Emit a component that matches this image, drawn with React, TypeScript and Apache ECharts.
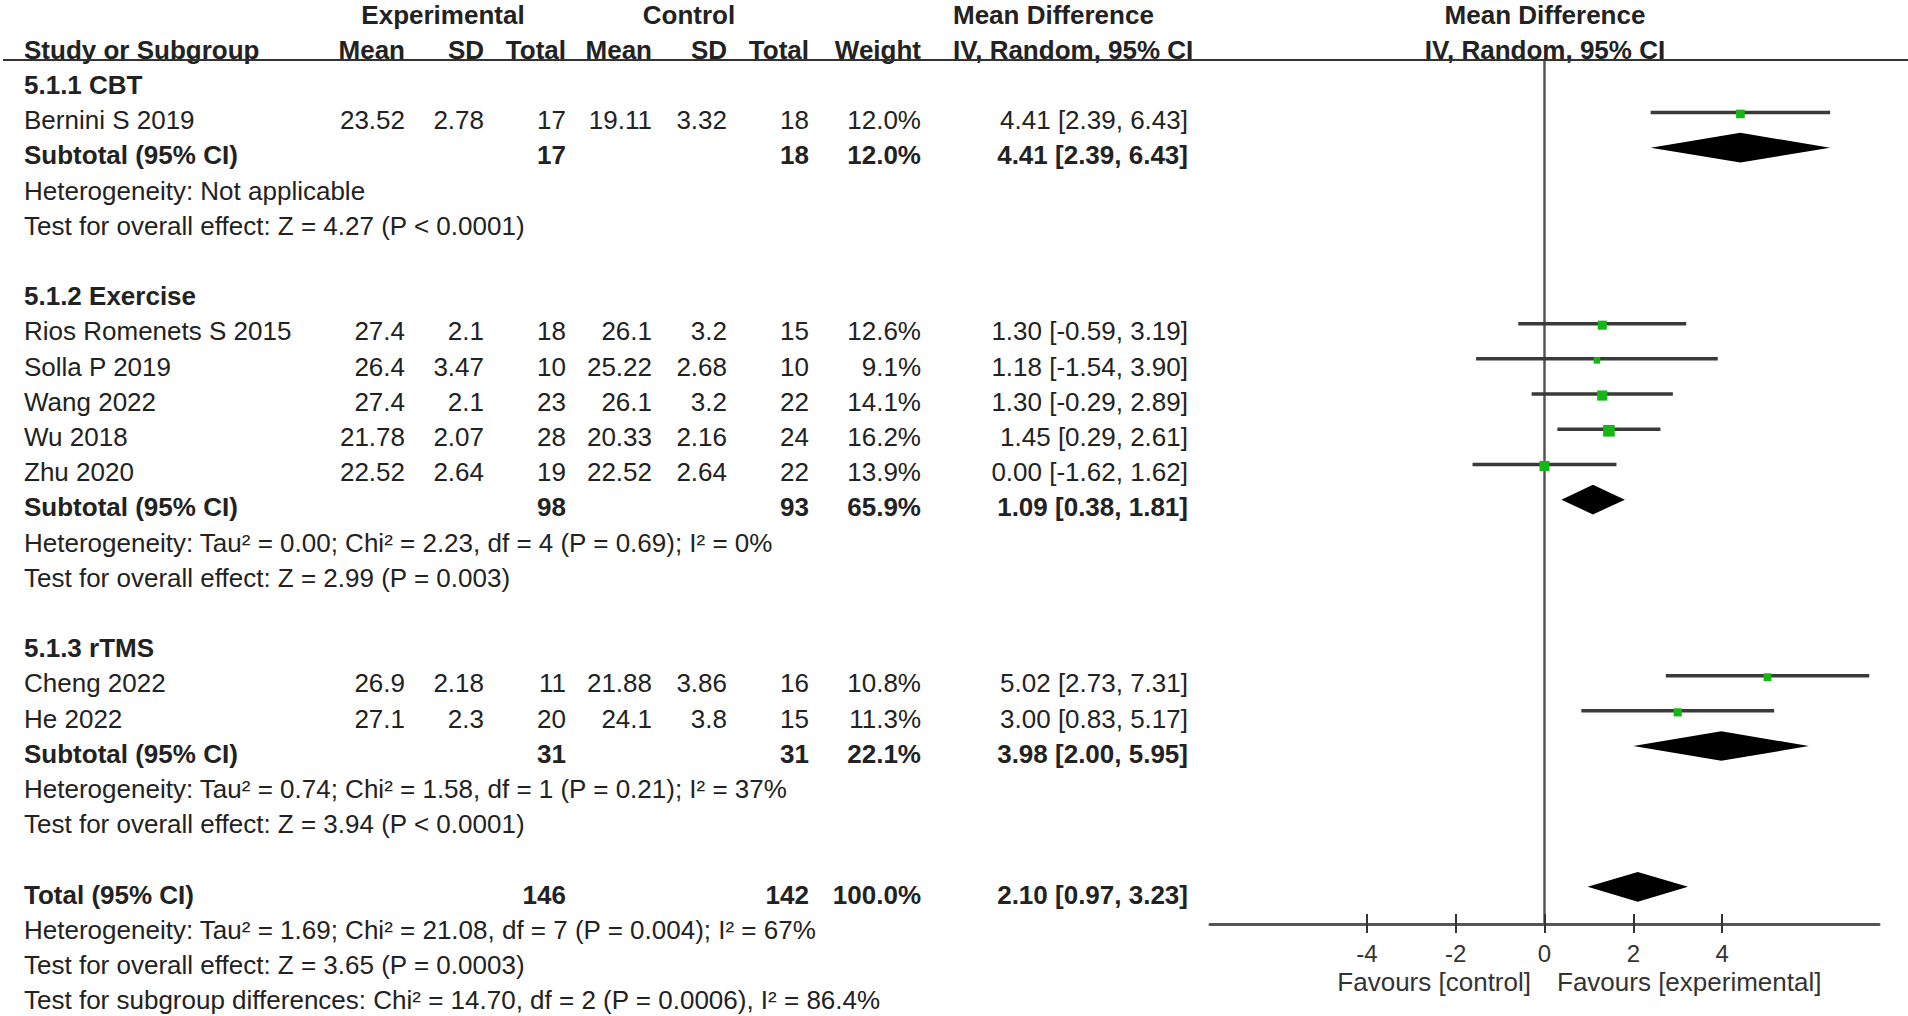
import React, { useEffect, useRef } from "react";
import * as echarts from "echarts";

// ---------------- data ----------------
const groupTitles = ["5.1.1 CBT", "5.1.2 Exercise", "5.1.3 rTMS"];
const studyGroup = [0, 1, 1, 1, 1, 1, 2, 2];
const studyNames = [
  "Bernini S 2019",
  "Rios Romenets S 2015",
  "Solla P 2019",
  "Wang 2022",
  "Wu 2018",
  "Zhu 2020",
  "Cheng 2022",
  "He 2022",
];
const expMean = [23.52, 27.4, 26.4, 27.4, 21.78, 22.52, 26.9, 27.1];
const expSD = [2.78, 2.1, 3.47, 2.1, 2.07, 2.64, 2.18, 2.3];
const expN = [17, 18, 10, 23, 28, 19, 11, 20];
const ctlMean = [19.11, 26.1, 25.22, 26.1, 20.33, 22.52, 21.88, 24.1];
const ctlSD = [3.32, 3.2, 2.68, 3.2, 2.16, 2.64, 3.86, 3.8];
const ctlN = [18, 15, 10, 22, 24, 22, 16, 15];
const weight = [12.0, 12.6, 9.1, 14.1, 16.2, 13.9, 10.8, 11.3];
const md = [4.41, 1.3, 1.18, 1.3, 1.45, 0.0, 5.02, 3.0];
const ciLow = [2.39, -0.59, -1.54, -0.29, 0.29, -1.62, 2.73, 0.83];
const ciHigh = [6.43, 3.19, 3.9, 2.89, 2.61, 1.62, 7.31, 5.17];

const subExpN = [17, 98, 31];
const subCtlN = [18, 93, 31];
const subWeight = [12.0, 65.9, 22.1];
const subMd = [4.41, 1.09, 3.98];
const subLow = [2.39, 0.38, 2.0];
const subHigh = [6.43, 1.81, 5.95];
const subHet = [
  "Heterogeneity: Not applicable",
  "Heterogeneity: Tau² = 0.00; Chi² = 2.23, df = 4 (P = 0.69); I² = 0%",
  "Heterogeneity: Tau² = 0.74; Chi² = 1.58, df = 1 (P = 0.21); I² = 37%",
];
const subEffect = [
  "Test for overall effect: Z = 4.27 (P < 0.0001)",
  "Test for overall effect: Z = 2.99 (P = 0.003)",
  "Test for overall effect: Z = 3.94 (P < 0.0001)",
];

const totalExpN = 146;
const totalCtlN = 142;
const totalWeight = 100.0;
const totalMd = 2.1;
const totalLow = 0.97;
const totalHigh = 3.23;
const totalHet = "Heterogeneity: Tau² = 1.69; Chi² = 21.08, df = 7 (P = 0.004); I² = 67%";
const totalEffect = "Test for overall effect: Z = 3.65 (P = 0.0003)";
const subgroupTest = "Test for subgroup differences: Chi² = 14.70, df = 2 (P = 0.0006), I² = 86.4%";

const tickValues = [-4, -2, 0, 2, 4];
const favoursLeft = "Favours [control]";
const favoursRight = "Favours [experimental]";

// ---------------- layout ----------------
const W = 1908;
const H = 1016;
const ROW0 = 85;
const ROWH = 35.2;
const FONT = "'Liberation Sans', Arial, Helvetica, sans-serif";
const TEXT = "#222";
const MARK_OFF = 0.22;

const COL = {
  name: 24,
  expMean: 405,
  expSD: 484,
  expN: 566,
  ctlMean: 652,
  ctlSD: 727,
  ctlN: 809,
  weight: 921,
  ci: 1188,
  mdHead: 953,
  expHead: 443,
  ctlHead: 689,
  plotHead: 1545,
};

type Cell = { x: number; r: number; text: string; align: string; bold: boolean };

const fmtCI = (m: number, l: number, h: number) =>
  `${m.toFixed(2)} [${l.toFixed(2)}, ${h.toFixed(2)}]`;

function buildLayout() {
  const cells: Cell[] = [];
  const studies: number[][] = [];
  const diamonds: number[][] = [];
  const add = (x: number, r: number, text: string, align: string, bold = false) =>
    cells.push({ x, r, text, align, bold });

  add(COL.expHead, -2, "Experimental", "center", true);
  add(COL.ctlHead, -2, "Control", "center", true);
  add(COL.mdHead, -2, "Mean Difference", "left", true);
  add(COL.plotHead, -2, "Mean Difference", "center", true);
  add(COL.name, -1, "Study or Subgroup", "left", true);
  add(COL.expMean, -1, "Mean", "right", true);
  add(COL.expSD, -1, "SD", "right", true);
  add(COL.expN, -1, "Total", "right", true);
  add(COL.ctlMean, -1, "Mean", "right", true);
  add(COL.ctlSD, -1, "SD", "right", true);
  add(COL.ctlN, -1, "Total", "right", true);
  add(COL.weight, -1, "Weight", "right", true);
  add(COL.mdHead, -1, "IV, Random, 95% CI", "left", true);
  add(COL.plotHead, -1, "IV, Random, 95% CI", "center", true);

  let r = 0;
  groupTitles.forEach((g, gi) => {
    add(COL.name, r, g, "left", true);
    r++;
    studyNames.forEach((name, i) => {
      if (studyGroup[i] !== gi) return;
      add(COL.name, r, name, "left");
      add(COL.expMean, r, String(expMean[i]), "right");
      add(COL.expSD, r, String(expSD[i]), "right");
      add(COL.expN, r, String(expN[i]), "right");
      add(COL.ctlMean, r, String(ctlMean[i]), "right");
      add(COL.ctlSD, r, String(ctlSD[i]), "right");
      add(COL.ctlN, r, String(ctlN[i]), "right");
      add(COL.weight, r, `${weight[i].toFixed(1)}%`, "right");
      add(COL.ci, r, fmtCI(md[i], ciLow[i], ciHigh[i]), "right");
      studies.push([md[i], r, ciLow[i], ciHigh[i], weight[i]]);
      r++;
    });
    add(COL.name, r, "Subtotal (95% CI)", "left", true);
    add(COL.expN, r, String(subExpN[gi]), "right", true);
    add(COL.ctlN, r, String(subCtlN[gi]), "right", true);
    add(COL.weight, r, `${subWeight[gi].toFixed(1)}%`, "right", true);
    add(COL.ci, r, fmtCI(subMd[gi], subLow[gi], subHigh[gi]), "right", true);
    diamonds.push([subMd[gi], r, subLow[gi], subHigh[gi]]);
    r++;
    add(COL.name, r, subHet[gi], "left");
    r++;
    add(COL.name, r, subEffect[gi], "left");
    r += 2;
  });
  add(COL.name, r, "Total (95% CI)", "left", true);
  add(COL.expN, r, String(totalExpN), "right", true);
  add(COL.ctlN, r, String(totalCtlN), "right", true);
  add(COL.weight, r, `${totalWeight.toFixed(1)}%`, "right", true);
  add(COL.ci, r, fmtCI(totalMd, totalLow, totalHigh), "right", true);
  diamonds.push([totalMd, r, totalLow, totalHigh]);
  r++;
  add(COL.name, r, totalHet, "left");
  r++;
  add(COL.name, r, totalEffect, "left");
  r++;
  add(COL.name, r, subgroupTest, "left");
  return { cells, studies, diamonds };
}

const rowOf = (y: number) => (y - ROW0) / ROWH;

export default function App() {
  const ref = useRef<HTMLDivElement>(null);
  useEffect(() => {
    if (!ref.current) return;
    const chart = echarts.init(ref.current, undefined, { renderer: "svg" });
    const { cells, studies, diamonds } = buildLayout();

    const plotLeft = 1210;
    const plotWidth = 669;
    const plotTop = 60;
    const plotBottom = 924;
    const xSpan = 7.53;

    const option: any = {
      animation: false,
      backgroundColor: "#ffffff",
      grid: [
        { left: plotLeft, width: plotWidth, top: plotTop, height: plotBottom - plotTop, containLabel: false },
        { left: 0, top: 0, width: W, height: H, containLabel: false },
      ],
      xAxis: [
        {
          type: "value",
          gridIndex: 0,
          min: -xSpan,
          max: xSpan,
          position: "bottom",
          splitLine: { show: false },
          axisLine: { show: true, onZero: false, lineStyle: { color: "#555", width: 3 } },
          axisTick: { show: true, customValues: tickValues, length: 9, lineStyle: { color: "#333", width: 2 } },
          axisLabel: {
            show: true,
            customValues: tickValues,
            margin: 17,
            fontSize: 24,
            fontFamily: FONT,
            color: "#333",
          },
        },
        { type: "value", gridIndex: 1, min: 0, max: W, show: false },
        {
          type: "value",
          gridIndex: 0,
          min: -xSpan,
          max: xSpan,
          position: "bottom",
          splitLine: { show: false },
          axisLine: { show: false, onZero: false },
          axisTick: { show: true, inside: true, customValues: tickValues, length: 10, lineStyle: { color: "#333", width: 2 } },
          axisLabel: { show: false },
        },
      ],
      yAxis: [
        {
          type: "value",
          gridIndex: 0,
          inverse: true,
          min: rowOf(plotTop),
          max: rowOf(plotBottom),
          splitLine: { show: false },
          axisLine: { show: true, onZero: true, lineStyle: { color: "#555", width: 2.5 } },
          axisTick: { show: false },
          axisLabel: { show: false },
        },
        {
          type: "value",
          gridIndex: 1,
          inverse: true,
          min: rowOf(0),
          max: rowOf(H),
          show: false,
        },
      ],
      graphic: [
        {
          type: "line",
          shape: { x1: 3, y1: 60, x2: W, y2: 60 },
          style: { stroke: "#333", lineWidth: 2 },
          z: 10,
        },
        {
          type: "text",
          x: 1531,
          y: 982,
          style: { text: favoursLeft, fontSize: 26, fontFamily: FONT, fill: "#333", align: "right", verticalAlign: "middle" },
        },
        {
          type: "text",
          x: 1557,
          y: 982,
          style: { text: favoursRight, fontSize: 26, fontFamily: FONT, fill: "#333", align: "left", verticalAlign: "middle" },
        },
      ],
      series: [
        {
          type: "custom",
          xAxisIndex: 1,
          yAxisIndex: 1,
          silent: true,
          data: cells.map((c) => [c.x, c.r]),
          renderItem: (params: any, api: any) => {
            const c = cells[params.dataIndex];
            const p = api.coord([c.x, c.r]);
            return {
              type: "text",
              x: p[0],
              y: p[1],
              style: {
                text: c.text,
                fontSize: 26,
                fontFamily: FONT,
                fontWeight: c.bold ? "bold" : "normal",
                fill: TEXT,
                align: c.align,
                verticalAlign: "middle",
              },
            };
          },
        },
        {
          type: "custom",
          xAxisIndex: 0,
          yAxisIndex: 0,
          silent: true,
          data: studies,
          renderItem: (params: any, api: any) => {
            const r = api.value(1) - MARK_OFF;
            const a = api.coord([api.value(2), r]);
            const b = api.coord([api.value(3), r]);
            const c = api.coord([api.value(0), r]);
            const s = api.value(4) * 0.72;
            return {
              type: "group",
              children: [
                {
                  type: "line",
                  shape: { x1: a[0], y1: a[1], x2: b[0], y2: b[1] },
                  style: { stroke: "#3a3a3a", lineWidth: 3.5 },
                },
                {
                  type: "rect",
                  shape: { x: c[0] - s / 2, y: c[1] - s / 2 + 1.5, width: s, height: s },
                  style: { fill: "#14b814" },
                },
              ],
            };
          },
        },
        {
          type: "custom",
          xAxisIndex: 0,
          yAxisIndex: 0,
          silent: true,
          data: diamonds,
          renderItem: (params: any, api: any) => {
            const r = api.value(1) - MARK_OFF;
            const half = 0.42;
            const pts = [
              api.coord([api.value(2), r]),
              api.coord([api.value(0), r - half]),
              api.coord([api.value(3), r]),
              api.coord([api.value(0), r + half]),
            ];
            return {
              type: "polygon",
              shape: { points: pts },
              style: { fill: "#000" },
            };
          },
        },
      ],
    };
    chart.setOption(option);
    return () => chart.dispose();
  }, []);
  return (
    <div
      ref={ref}
      style={{ position: "fixed", left: 0, top: 0, width: W, height: H, background: "#fff" }}
    />
  );
}
